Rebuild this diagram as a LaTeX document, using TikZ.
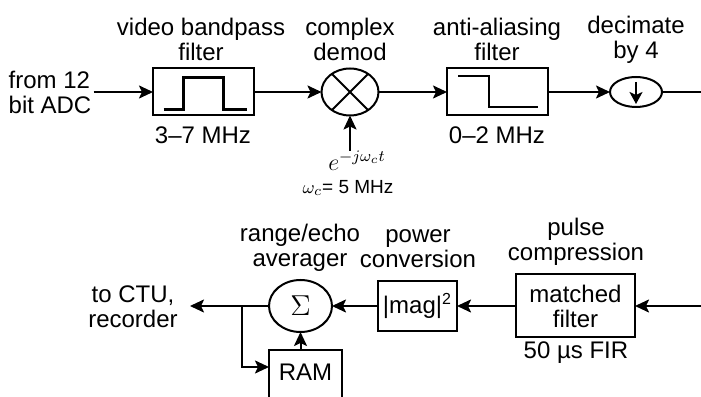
\documentclass[tikz,border=0pt]{standalone}
\usepackage{fontspec}
\setmainfont{Liberation Sans}
\usetikzlibrary{positioning,arrows.meta,shapes.geometric}

\begin{document}
\begin{tikzpicture}[
  x=0.5pt, y=0.5pt, font=\fontsize{12}{12.5}\selectfont,
  block/.style={draw, line width=1pt, inner sep=0pt, outer sep=0pt},
  junction/.style={draw, ellipse, line width=1pt, inner sep=0pt, outer sep=0pt},
  heading/.style={align=center, inner sep=0pt},
  note/.style={align=center, inner sep=0pt},
  flow/.style={-{Stealth[length=7pt,width=6.5pt,inset=1.5pt]}, line width=1pt},
  wire/.style={line width=1pt},
  response/.style={line width=1.1pt}
]
% The frame is the 701 by 396 px scan; the RAM box runs off its lower edge.
\path[use as bounding box] (0,0) rectangle (701,396);
\clip (0,0) rectangle (701,396);

% Top row: input, band-pass, complex demodulator, anti-aliasing, decimator.
\node[note, align=left, inner sep=1pt] (src) at (50,304) {from 12\\bit ADC};
\node[block, minimum width=50.5pt, minimum height=23.5pt] (bp) at (203.5,304) {};
\node[heading] at (201,356.5) {video bandpass\\filter};
\node[note] at (203,261) {3--7 MHz};

\node[junction, minimum width=28.5pt, minimum height=23.5pt] (demod) at (350,304) {};
\node[heading] at (350,356.5) {complex\\demod};
\coordinate (lo) at (350,245);
\node[note] (lolabel) at (357,235) {$e^{-j\omega_c t}$};
\node[note, font=\fontsize{9.5}{10}\selectfont] (lofreq) at (348,208)
  {$\omega_c$= 5 MHz};

\node[block, minimum width=50.5pt, minimum height=23.5pt] (aa) at (497.5,304) {};
\node[heading] at (497,356.5) {anti-aliasing\\filter};
\node[note] at (497,261) {0--2 MHz};

\node[junction, minimum width=26pt, minimum height=15pt] (dec) at (636,304) {};
\node[heading] at (636,356.5) {decimate\\by 4};
\coordinate (topout) at (701,304);

% Symbols drawn inside the blocks: responses, mixer cross, down-sampler.
\begin{scope}[shift={(bp.center)}]
  \draw[response] (-40,-17.5) -- (-20,-17.5) -- (-20,14.5) -- (20,14.5)
    -- (20,-17.5) -- (43,-17.5);
\end{scope}
\begin{scope}[shift={(aa.center)}]
  \draw[response] (-39.5,16) -- (-8.5,16) -- (-8.5,-15) -- (40.5,-15);
\end{scope}
\draw[wire] (demod.45) -- (demod.225);
\draw[wire] (demod.135) -- (demod.-45);
\draw[-{Stealth[length=6pt,width=6.5pt,inset=1.5pt]}, line width=1pt]
  ([yshift=5pt]dec.center) -- ([yshift=-6pt]dec.center);

\draw[flow] (src) -- (bp);
\draw[flow] (bp) -- (demod);
\draw[flow] (lo) -- (demod);
\draw[flow] (demod) -- (aa);
\draw[flow] (aa) -- (dec);
\draw[wire] (dec) -- (topout);

% Bottom row runs right to left: matched filter, power, averager with RAM.
\coordinate (bin) at (701,90);
\node[block, align=center, minimum width=59.5pt, minimum height=31.5pt]
  (mf) at (575.5,90) {matched\\filter};
\node[heading] at (576,154.5) {pulse\\compression};
\node[note] at (576,43) {50 µs FIR};

\node[block, minimum width=39.5pt, minimum height=25pt] (pow) at (417.5,90)
  {|mag|\textsuperscript{2}};
\node[heading] at (418,147.5) {power\\conversion};

\node[junction, minimum width=31.5pt, minimum height=26pt,
  font=\fontsize{14}{14}\selectfont] (sum) at (300.5,90) {$\Sigma$};
\node[heading] at (300,148.5) {range/echo\\averager};

\node[block, anchor=north, minimum width=36.5pt, text height=15pt,
  text depth=18pt] (ram) at (305.5,46) {RAM};

\coordinate (bout) at (190,90);
\coordinate (tap) at (242,90);
\node[note] (dest) at (133,89) {to CTU,\\recorder};

\draw[flow] (bin) -- (mf);
\draw[flow] (mf) -- (pow);
\draw[flow] (pow) -- (sum);
\draw[flow] (sum) -- (bout);
\draw[flow] (tap) |- ([yshift=8pt]ram.west);
\draw[flow] (ram.north -| sum.south) -- (sum.south);
\end{tikzpicture}
\end{document}
